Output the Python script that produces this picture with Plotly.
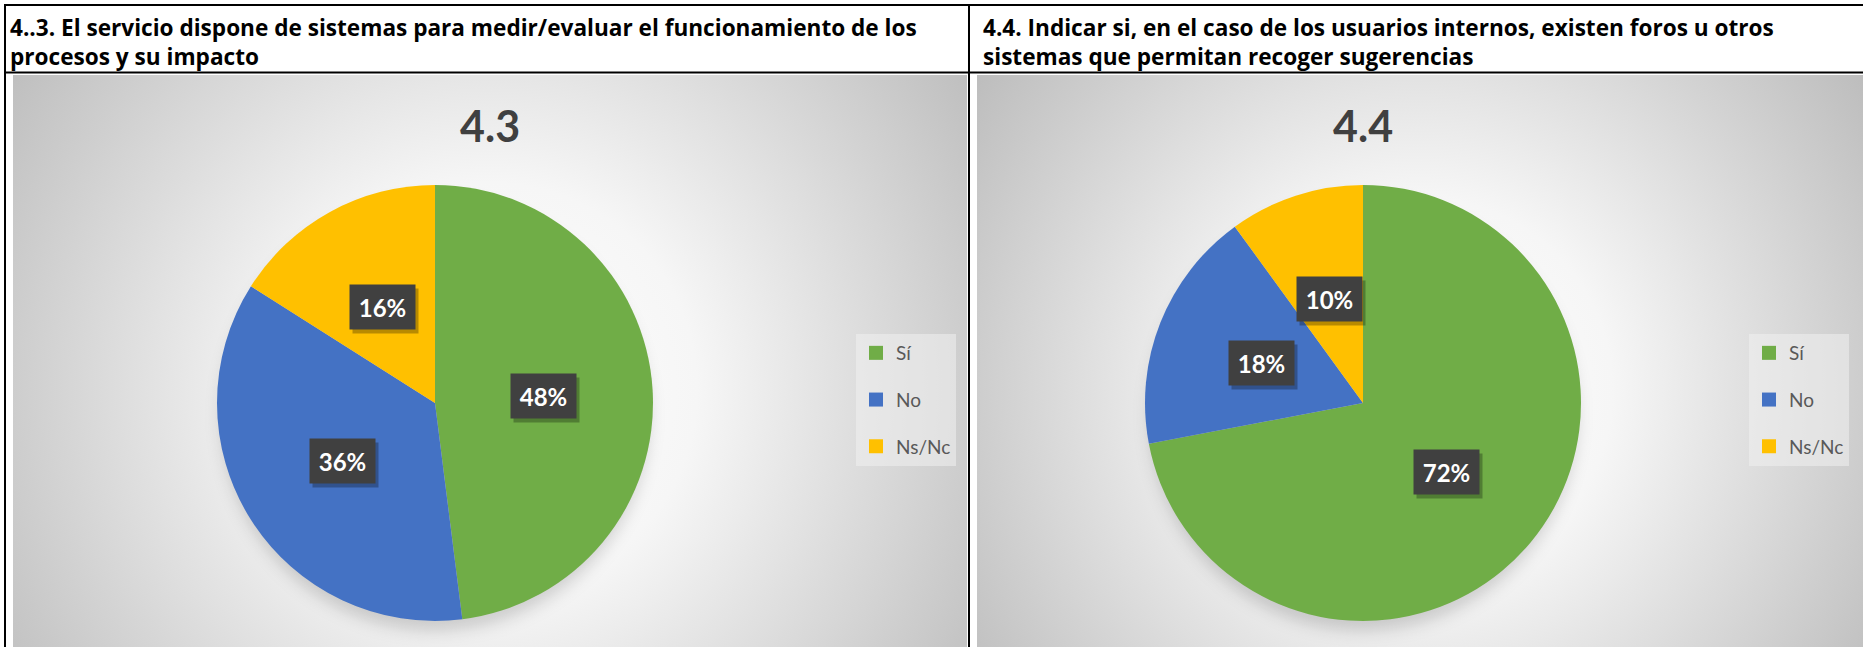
import base64
import math
import plotly.graph_objects as go

W, H = 1863, 647

categories = ["Sí", "No", "Ns/Nc"]
colors = ["#70AD47", "#4472C4", "#FFC000"]
values_43 = [48, 36, 16]
values_44 = [72, 18, 10]

title_43 = "4.3"
title_44 = "4.4"
header_43 = "4..3. El servicio dispone de sistemas para medir/evaluar el funcionamiento de los<br>procesos y su impacto"
header_44 = "4.4. Indicar si, en el caso de los usuarios internos, existen foros u otros<br>sistemas que permitan recoger sugerencias"

FONT = "Lato, 'Open Sans', sans-serif"
HEADER_FONT = "'Open Sans', Lato, sans-serif"

# pixel layout: (left, top, width, height) of each grey chart panel
panels = [(13, 75, 954, 572), (977, 75, 886, 572)]
pie_centers = [(435, 403), (1363, 403)]
R = 218


def px(x):
    return x / W


def py(y):
    return 1 - y / H


def panel_background(panel, center):
    left, top, w, h = panel
    cx, cy = center[0] - left, center[1] - top
    svg = f'''<svg xmlns="http://www.w3.org/2000/svg" width="{w}" height="{h}" viewBox="0 0 {w} {h}">
<defs>
<radialGradient id="g" gradientUnits="userSpaceOnUse" cx="{w/2}" cy="{h*0.55}" r="{w*0.62}">
<stop offset="0" stop-color="#ffffff"/>
<stop offset="0.35" stop-color="#f6f6f6"/>
<stop offset="1" stop-color="#bcbcbc"/>
</radialGradient>
<filter id="b" x="-30%" y="-30%" width="160%" height="160%"><feGaussianBlur stdDeviation="8"/></filter>
</defs>
<rect width="{w}" height="{h}" fill="url(#g)"/>
<ellipse cx="{cx}" cy="{cy + 12}" rx="{R - 4}" ry="{R - 2}" fill="#000" fill-opacity="0.16" filter="url(#b)"/>
</svg>'''
    return "data:image/svg+xml;base64," + base64.b64encode(svg.encode()).decode()


fig = go.Figure()

annotations = []
pies = [(values_43, title_43, header_43), (values_44, title_44, header_44)]
legend_names = ["legend", "legend2"]

for i, (vals, title, header) in enumerate(pies):
    cx, cy = pie_centers[i]
    fig.add_trace(go.Pie(
        labels=categories,
        values=vals,
        sort=False,
        direction="clockwise",
        rotation=0,
        marker=dict(colors=colors, line=dict(width=0)),
        textinfo="none",
        hoverinfo="label+percent",
        showlegend=False,
        domain=dict(x=[px(cx - R), px(cx + R)], y=[py(cy + R), py(cy - R)]),
    ))

    # data labels: dark boxes at half radius on each slice's mid angle
    total = sum(vals)
    start = 0
    for v in vals:
        mid = (start + v / 2) / total * 2 * math.pi
        lx = cx + 0.5 * R * math.sin(mid)
        ly = cy - 0.5 * R * math.cos(mid)
        start += v
        for shadow in (True, False):
            annotations.append(dict(
                x=px(lx), y=py(ly), xref="paper", yref="paper",
                xanchor="center", yanchor="middle",
                text="" if shadow else f"<b>{round(v / total * 100)}%</b>",
                showarrow=False, width=63, height=42,
                xshift=3 if shadow else 0, yshift=-4 if shadow else 0,
                bgcolor="rgba(0,0,0,0.28)" if shadow else "#404040",
                font=dict(family=FONT, size=24, color="white"),
            ))

    # chart title
    left, top, w, h = panels[i]
    tx = left + w / 2 if i == 0 else cx
    annotations.append(dict(
        x=px(tx), y=py(125), xref="paper", yref="paper",
        xanchor="center", yanchor="middle",
        text=f"<b>{title}</b>", showarrow=False,
        font=dict(family=FONT, size=43, color="#404040"),
    ))

    # header cell text
    annotations.append(dict(
        x=px(8 if i == 0 else 981), y=py(42), xref="paper", yref="paper",
        xanchor="left", yanchor="middle", align="left",
        text=f"<b>{header}</b>", showarrow=False,
        font=dict(family=HEADER_FONT, size=22.6, color="black"),
    ))

    # legend entries
    for name, col in zip(categories, colors):
        fig.add_trace(go.Scatter(
            x=[None], y=[None], mode="markers", name=name,
            marker=dict(symbol="square", size=14, color=col),
            legend=legend_names[i], legendgroup=f"{i}-{name}",
        ))

images = [
    dict(source=panel_background(p, c), xref="paper", yref="paper",
         x=px(p[0]), y=py(p[1]), sizex=p[2] / W, sizey=p[3] / H,
         xanchor="left", yanchor="top", sizing="stretch", layer="below")
    for p, c in zip(panels, pie_centers)
]

line = dict(color="black", width=2)
shapes = [
    dict(type="line", xref="paper", yref="paper", x0=px(5), x1=px(5), y0=0, y1=py(4), line=line),
    dict(type="line", xref="paper", yref="paper", x0=px(4), x1=1, y0=py(5), y1=py(5), line=line),
    dict(type="line", xref="paper", yref="paper", x0=px(4), x1=1, y0=py(72.5), y1=py(72.5), line=line),
    dict(type="line", xref="paper", yref="paper", x0=px(969), x1=px(969), y0=0, y1=py(4), line=line),
]

legend_style = dict(
    xanchor="left", yanchor="top", y=py(334),
    bgcolor="rgba(240,240,240,0.55)",
    font=dict(family=FONT, size=19, color="#595959"),
    tracegroupgap=19, itemwidth=30,
)

fig.update_layout(
    width=W, height=H,
    margin=dict(l=0, r=0, t=0, b=0),
    template="none",
    paper_bgcolor="white",
    plot_bgcolor="rgba(0,0,0,0)",
    xaxis=dict(visible=False, range=[0, 1]),
    yaxis=dict(visible=False, range=[0, 1]),
    legend=dict(x=px(856), **legend_style),
    legend2=dict(x=px(1749), **legend_style),
    images=images,
    shapes=shapes,
    annotations=annotations,
    font=dict(family=FONT),
)

fig.write_html(
    "out.html",
    config={"displayModeBar": False},
    post_script="document.body.style.margin='0';document.body.style.overflow='hidden';",
)
